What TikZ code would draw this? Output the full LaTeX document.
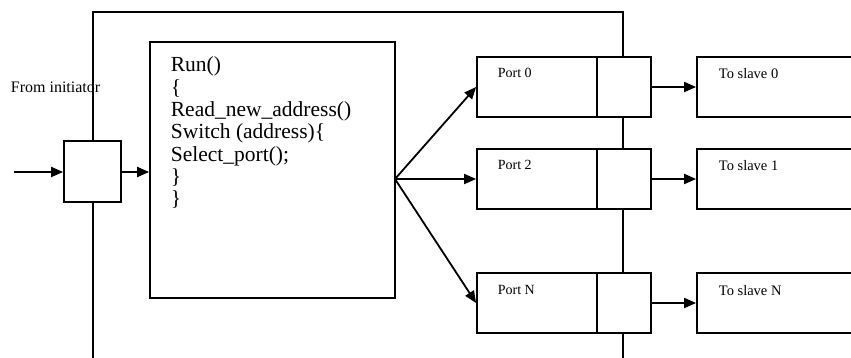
\documentclass[tikz,border=0pt]{standalone}
\usepackage{fontspec}
\setmainfont{Liberation Serif}
\usepackage{tikz}
\usetikzlibrary{positioning,calc,arrows.meta}

\begin{document}
\begin{tikzpicture}[x=1pt,y=-1pt,line width=1.8pt,
    box/.style={draw,fill=white,inner sep=0pt},
    flow/.style={-{Triangle[length=12pt,width=10pt]}},
    lbl/.style={anchor=base west,inner sep=0pt,font=\fontsize{14}{16}\selectfont}]
    \useasboundingbox (0,0) rectangle (851,358);
    \clip (0,0) rectangle (851,358);
    % Outer frame
    \draw (93,358) -- (93,12) -- (623,12) -- (623,358);
    % Input buffer and router code
    \node[box,minimum width=57pt,minimum height=61pt] (inbuf) at (92.5,171.5) {};
    \node[box,minimum width=245pt,minimum height=256pt] (run) at (272.5,170) {};
    \node[anchor=north west,align=left,inner sep=0pt,font=\fontsize{21.5}{22.3}\selectfont] (code) at (170,56)
        {Run()\\ \{\\ Read\_new\_address()\\ Switch (address)\{\\ Select\_port();\\ \}\\ \}};
    \node[anchor=base west,inner sep=0pt,font=\fontsize{16}{18}\selectfont] (init) at (10,93) {From initiator};
    \coordinate (src) at (14,172);
    \coordinate (fan) at (395,179);
    \draw[flow] (src) -- (inbuf.west |- src);
    \draw[flow] (inbuf.east |- src) -- (run.west |- src);
    % Ports and slaves
    \foreach \y/\p/\s/\n in {87/0/0/a,179/2/1/b,303/N/N/c} {
        \node[box,minimum width=120pt,minimum height=60pt] (port\n) at (537,\y) {};
        \node[box,minimum width=54pt,minimum height=60pt] (buf\n) at (624,\y) {};
        \node[box,minimum width=180pt,minimum height=60pt] (slave\n) at (787,\y) {};
        \node[lbl] (plbl\n) at (497,\y-9) {Port \p};
        \node[lbl,font=\fontsize{14.5}{16}\selectfont] (slbl\n) at (718,\y-8) {To slave \s};
        \draw[flow] (fan) -- (port\n.west);
        \draw[flow] (buf\n.east) -- (slave\n.west);
    }
\end{tikzpicture}
\end{document}
